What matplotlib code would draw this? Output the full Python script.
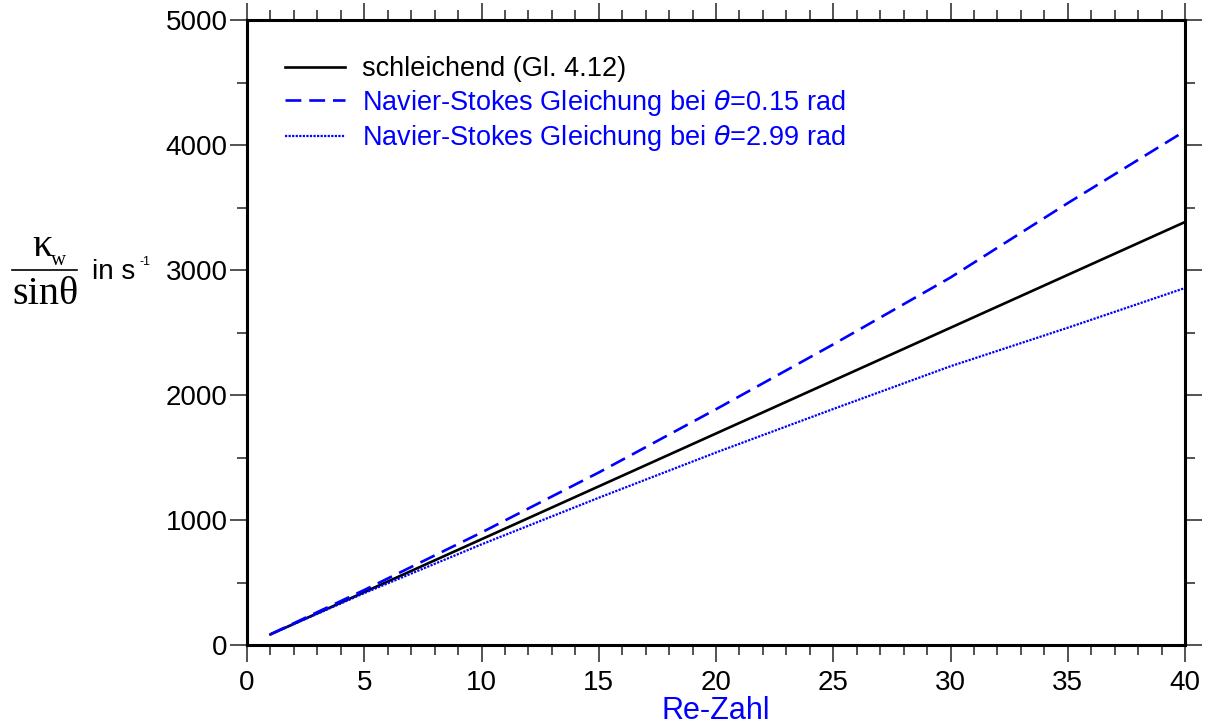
import numpy as np
import matplotlib
matplotlib.use('Agg')
from matplotlib import pyplot as plt
from matplotlib.ticker import MultipleLocator

# Werte
re_zahl = [1, 5, 10, 15, 20, 25, 30, 35, 40]
schleichend = [85, 423, 846, 1269, 1692, 2115, 2538, 2961, 3384]
ns_015 = [86, 440, 900, 1380, 1886, 2405, 2940, 3535, 4112]
ns_299 = [85, 415, 805, 1178, 1540, 1888, 2230, 2538, 2856]

labels = ['schleichend (Gl. 4.12)',
          r'Navier-Stokes Gleichung bei $\theta$=0.15 rad',
          r'Navier-Stokes Gleichung bei $\theta$=2.99 rad']

plt.rcParams['font.family'] = ['Liberation Sans', 'DejaVu Sans']
plt.rcParams['mathtext.fontset'] = 'dejavusans'

fig = plt.figure(figsize=(12.07, 7.26), dpi=100)
ax = fig.add_axes([247/1207, 81/726, 938/1207, 625/726])

ax.plot(re_zahl, schleichend, color='black', lw=1.9, label=labels[0])
ax.plot(re_zahl, ns_015, color='#0000ff', lw=1.9, dashes=(6, 3), label=labels[1])
ax.plot(re_zahl, ns_299, color='#0000ff', lw=1.6, dashes=(1, 0.6), label=labels[2])

ax.set_xlim(0, 40)
ax.set_ylim(0, 5000)
ax.xaxis.set_major_locator(MultipleLocator(5))
ax.xaxis.set_minor_locator(MultipleLocator(1))
ax.yaxis.set_major_locator(MultipleLocator(1000))
ax.yaxis.set_minor_locator(MultipleLocator(500))
ax.tick_params(which='both', direction='out', top=True, right=True,
               color='#444444', width=1.3, labelsize=20)
ax.tick_params(which='major', length=12)
ax.tick_params(which='minor', length=7)
ax.tick_params(axis='x', pad=6)
ax.tick_params(axis='y', pad=2)
for s in ax.spines.values():
    s.set_linewidth(2.2)

ax.set_xlabel('Re-Zahl', color='#0000ff', fontsize=22, labelpad=0)

leg = ax.legend(loc='upper left', bbox_to_anchor=(0.04, 0.942), frameon=False,
                fontsize=19.5, handlelength=2.25, handletextpad=0.6,
                labelspacing=0.2, borderpad=0, borderaxespad=0,
                labelcolor='linecolor')

# y-Achsenbeschriftung als Bruch
serif = ['Liberation Serif', 'DejaVu Serif']
fig.text(42/1207, 1 - 246/726, '\u03ba', family=serif, fontsize=29,
         ha='center', va='center')
fig.text(59/1207, 1 - 260/726, 'w', family=serif, fontsize=15,
         ha='center', va='center')
fig.add_artist(plt.Line2D([12/1207, 77/1207], [1 - 270/726, 1 - 270/726],
                          color='black', lw=1.2, transform=fig.transFigure))
fig.text(45/1207, 1 - 294/726, 'sin\u03b8', family=serif, fontsize=29,
         ha='center', va='center')
fig.text(92/1207, 1 - 272/726, 'in s', fontsize=20, ha='left', va='center')
fig.text(139/1207, 1 - 262/726, '-1', fontsize=9, ha='left', va='center')

fig.savefig('out.png', dpi=100)
